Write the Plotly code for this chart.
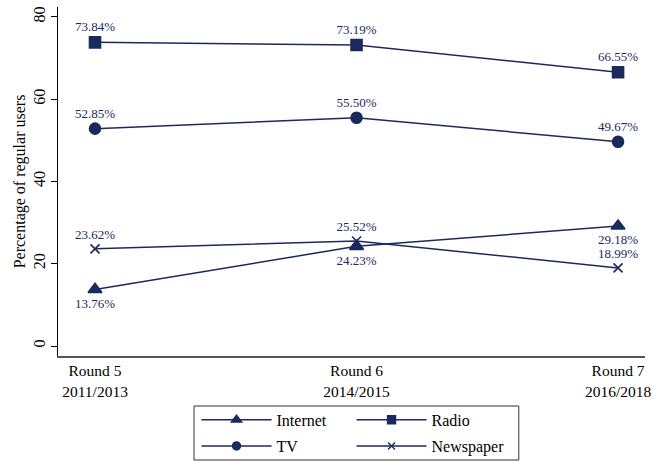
import plotly.graph_objects as go

rounds = ["Round 5<br>2011/2013", "Round 6<br>2014/2015", "Round 7<br>2016/2018"]
x_pos = [0, 1, 2]
internet = [13.76, 24.23, 29.18]
radio = [73.84, 73.19, 66.55]
tv = [52.85, 55.50, 49.67]
newspaper = [23.62, 25.52, 18.99]
y_ticks = [0, 20, 40, 60, 80]

NAVY = "#1b2a5c"
FONT = "Liberation Serif, Times New Roman, serif"

def lbl(vals):
    return [f"{v:.2f}%" for v in vals]

fig = go.Figure()
series = [
    ("Internet", internet, "triangle-up", 12, 9, "bottom center", "legend"),
    ("Radio", radio, "square", 11, 8, "top center", "legend"),
    ("TV", tv, "circle", 11, 8, "top center", "legend2"),
    ("Newspaper", newspaper, "x-thin", 9, 7, "top center", "legend2"),
]
for name, vals, sym, size, lsize, tpos, leg in series:
    fig.add_trace(go.Scatter(
        x=x_pos, y=vals, name=name, mode="lines+markers+text",
        text=lbl(vals), textposition=tpos,
        textfont=dict(family=FONT, size=13, color=NAVY),
        line=dict(color=NAVY, width=1.5),
        marker=dict(symbol=sym, size=size, color=NAVY,
                    line=dict(color=NAVY, width=1.6)),
        showlegend=False,
    ))
    # legend-only entry with smaller symbol, as in the reference key
    fig.add_trace(go.Scatter(
        x=[None], y=[None], name=name, mode="lines+markers",
        line=dict(color=NAVY, width=1.5),
        marker=dict(symbol=sym, size=lsize, color=NAVY,
                    line=dict(color=NAVY, width=1.4)),
        legend=leg, showlegend=True,
    ))

legend_common = dict(
    orientation="h", xanchor="left", yanchor="middle",
    font=dict(family=FONT, size=16, color="black"),
    bgcolor="rgba(0,0,0,0)", entrywidth=70, entrywidthmode="pixels",
    itemwidth=70,
)

fig.update_layout(
    width=654, height=462,
    margin=dict(l=58, r=9, t=7, b=106, autoexpand=False),
    plot_bgcolor="white", paper_bgcolor="white",
    font=dict(family=FONT, color="black"),
    showlegend=True,
    legend=dict(x=0.236, y=-0.183, **legend_common),
    legend2=dict(x=0.236, y=-0.258, **legend_common),
    xaxis=dict(
        range=[-0.1415, 2.103], tickvals=x_pos, ticktext=rounds,
        showline=True, linecolor="#555555", linewidth=1.5,
        showgrid=False, zeroline=False, ticks="",
        tickfont=dict(family=FONT, size=15.5, color="black"),
    ),
    yaxis=dict(
        range=[-2.43, 82.43], tickvals=y_ticks,
        showline=True, linecolor="black", linewidth=1,
        showgrid=False, zeroline=False, ticks="outside", ticklen=6,
        tickcolor="black", tickangle=-90,
        tickfont=dict(family=FONT, size=16, color="black"),
        title=dict(text="Percentage of regular users",
                   font=dict(family=FONT, size=16, color="black"), standoff=0),
    ),
    shapes=[dict(type="rect", xref="paper", yref="paper",
                 x0=0.2317, x1=0.785, y0=-0.298, y1=-0.1433,
                 line=dict(color="#333333", width=1), fillcolor="rgba(0,0,0,0)")],
)

fig.write_html("out.html", config={"displayModeBar": False},
               post_script="document.body.style.margin='0';document.body.style.overflow='hidden';")
